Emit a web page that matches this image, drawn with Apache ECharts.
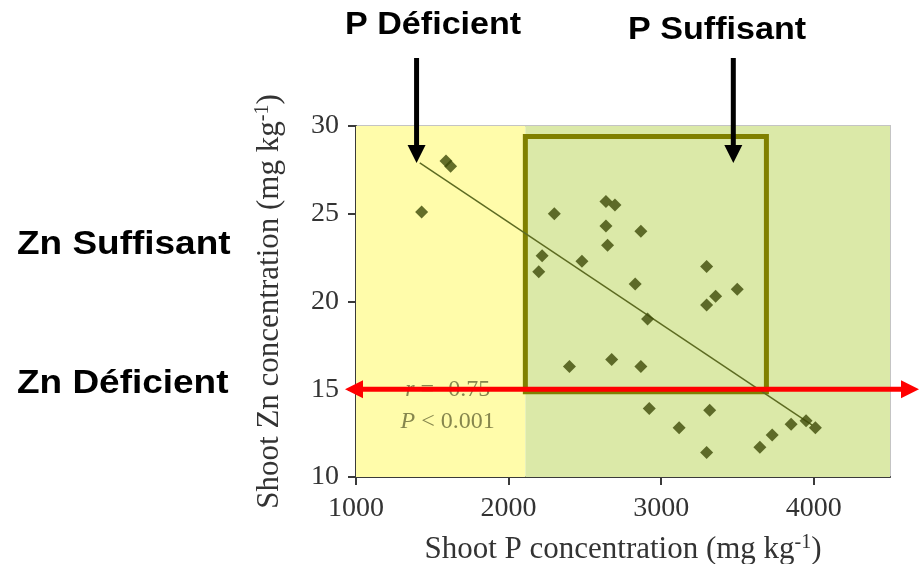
<!DOCTYPE html>
<html><head><meta charset="utf-8">
<script src="https://cdn.jsdelivr.net/npm/echarts@6/dist/echarts.min.js"></script>
<style>html,body{margin:0;padding:0;background:#fff}#c{width:919px;height:564px}</style>
</head><body><div id="c"></div>
<script>
// ---- data ----
const shootP  = [1430,1590,1620,2300,2638,2697,2638,2867,2649,2220,2198,2481,3298,2830,3499,3357,3298,2911,2399,2676,2867,2922,3318,3118,3298,3647,3728,3852,3950,4011];
const shootZn = [25.1,28.0,27.7,25.0,25.7,25.5,24.3,24.0,23.2,22.6,21.7,22.3,22.0,21.0,20.7,20.3,19.8,19.0,16.3,16.7,16.3,13.9,13.8,12.8,11.4,11.7,12.4,13.0,13.2,12.8];
const fitP  = [1418, 3990];
const fitZn = [27.9, 12.96];
const pDeficientLimit = 2110;          // boundary between yellow and green zones
const boxP  = [2110, 3690];            // "sufficient" box, P range
const boxZn = [14.86, 29.4];           // "sufficient" box, Zn range
const znThreshold = 15;                // red arrow level
const xTicks = [1000, 2000, 3000, 4000];
const yTicks = [10, 15, 20, 25, 30];
const xRange = [1000, 4500];
const yRange = [10, 30];
const statsText = ['r = -0.75', 'P < 0.001'];
const labels = {pDef: 'P Déficient', pSuf: 'P Suffisant', znSuf: 'Zn Suffisant', znDef: 'Zn Déficient'};

const chart = echarts.init(document.getElementById('c'), null, {renderer: 'canvas'});
const serif = '"Liberation Serif", "Times New Roman", serif';
const sans = '"Liberation Sans", Arial, sans-serif';

chart.setOption({
  animation: false,
  grid: {left: 356, right: 29, top: 126, bottom: 87, containLabel: false, outerBoundsMode: 'none',
         show: true, borderColor: '#c4c4c4', borderWidth: 2, backgroundColor: 'transparent'},
  xAxis: {
    type: 'value', min: xRange[0], max: xRange[1], interval: 1000,
    splitLine: {show: false},
    axisLine: {show: true, onZero: false, lineStyle: {color: '#3a3a3a', width: 2}},
    axisTick: {show: true, length: 8, lineStyle: {color: '#3a3a3a', width: 2}, customValues: xTicks},
    axisLabel: {fontFamily: serif, fontSize: 28, color: '#333', margin: 18, customValues: xTicks, formatter: v => String(v)},
    name: 'Shoot P concentration (mg kg{sup|-1})',
    nameLocation: 'middle', nameGap: 56,
    nameTextStyle: {fontFamily: serif, fontSize: 31, color: '#333',
      rich: {sup: {fontFamily: serif, fontSize: 20, color: '#333', padding: [0,0,13,0]}}}
  },
  yAxis: {
    type: 'value', min: yRange[0], max: yRange[1], interval: 5,
    splitLine: {show: false},
    axisLine: {show: true, onZero: false, lineStyle: {color: '#3a3a3a', width: 2}},
    axisTick: {show: true, length: 8, lineStyle: {color: '#3a3a3a', width: 2}, customValues: yTicks},
    axisLabel: {fontFamily: serif, fontSize: 28, color: '#333', margin: 17, customValues: yTicks},
    name: 'Shoot Zn concentration (mg kg{sup|-1})',
    nameLocation: 'middle', nameGap: 70,
    nameTextStyle: {fontFamily: serif, fontSize: 31, color: '#333',
      rich: {sup: {fontFamily: serif, fontSize: 20, color: '#333', padding: [0,0,13,0]}}}
  },
  series: [
    { // background zones
      type: 'scatter', data: [], z: 1, silent: true,
      markArea: {silent: true, data: [
        [{coord: [xRange[0], yRange[0]], itemStyle: {color: '#fffcaa'}}, {coord: [pDeficientLimit, yRange[1]]}],
        [{coord: [pDeficientLimit, yRange[0]], itemStyle: {color: '#dbe9a8'}}, {coord: [xRange[1], yRange[1]]}]
      ]}
    },
    { // sufficient box
      type: 'scatter', data: [], z: 5, silent: true,
      markArea: {silent: true, data: [
        [{coord: [boxP[0], boxZn[0]], itemStyle: {color: 'rgba(0,0,0,0)', borderColor: '#808000', borderWidth: 5}},
         {coord: [boxP[1], boxZn[1]]}]
      ]}
    },
    { // regression line
      type: 'line', z: 4, silent: true, symbol: 'none',
      data: fitP.map((p, i) => [p, fitZn[i]]),
      lineStyle: {color: '#5d6b22', width: 1.5}
    },
    {
      type: 'scatter', z: 6,
      symbol: 'diamond', symbolSize: 13,
      itemStyle: {color: '#3d4a08'},
      data: shootP.map((p, i) => [p, shootZn[i]])
    }
  ]
});

function px(x, y) { return chart.convertToPixel({gridIndex: 0}, [x, y]); }

const left = px(xRange[0], znThreshold);
const redY = left[1];
const arrowDef = px(1397, yRange[1]);
const arrowSuf = px(3473, yRange[1]);
const stat1 = px(1601, 14.96);
const stat2 = px(1601, 13.15);

function downArrow(x, yTop, yTip) {
  return [
    {type: 'line', z: 20, shape: {x1: x, y1: yTop, x2: x, y2: yTip - 14}, style: {stroke: '#000', lineWidth: 5}},
    {type: 'polygon', z: 20, shape: {points: [[x - 9, yTip - 18], [x + 9, yTip - 18], [x, yTip]]}, style: {fill: '#000'}}
  ];
}

const statStyle = (txt) => ({
  text: txt, align: 'center', verticalAlign: 'middle',
  font: '24px ' + serif, fill: '#86864e',
  rich: {i: {fontStyle: 'italic', fontFamily: serif, fontSize: 24, fill: '#86864e', color: '#86864e'}}
});

const elements = [
  // stats text (under the red arrow)
  {type: 'text', z: 8, x: stat1[0], y: stat1[1], style: statStyle('{i|' + statsText[0].charAt(0) + '}' + statsText[0].slice(1))},
  {type: 'text', z: 8, x: stat2[0], y: stat2[1], style: statStyle('{i|' + statsText[1].charAt(0) + '}' + statsText[1].slice(1))},
  // red double arrow
  {type: 'line', z: 9, shape: {x1: 358, y1: redY, x2: 906, y2: redY}, style: {stroke: '#ff0000', lineWidth: 5}},
  {type: 'polygon', z: 9, shape: {points: [[345, redY], [363, redY - 9], [363, redY + 9]]}, style: {fill: '#ff0000'}},
  {type: 'polygon', z: 9, shape: {points: [[919, redY], [901, redY - 9], [901, redY + 9]]}, style: {fill: '#ff0000'}},
  // black arrows
  ...downArrow(arrowDef[0], 58, 163),
  ...downArrow(arrowSuf[0], 58, 163),
  // labels
  {type: 'text', z: 20, x: 345, y: 25, scaleX: 1.1, style: {text: labels.pDef, font: 'bold 31px ' + sans, fill: '#000', align: 'left', verticalAlign: 'middle'}},
  {type: 'text', z: 20, x: 628, y: 30, scaleX: 1.1, style: {text: labels.pSuf, font: 'bold 31px ' + sans, fill: '#000', align: 'left', verticalAlign: 'middle'}},
  {type: 'text', z: 20, x: 17, y: 245, scaleX: 1.12, style: {text: labels.znSuf, font: 'bold 33px ' + sans, fill: '#000', align: 'left', verticalAlign: 'middle'}},
  {type: 'text', z: 20, x: 17, y: 384, scaleX: 1.12, style: {text: labels.znDef, font: 'bold 33px ' + sans, fill: '#000', align: 'left', verticalAlign: 'middle'}}
];
chart.setOption({graphic: {elements: elements}});
</script>
</body></html>
